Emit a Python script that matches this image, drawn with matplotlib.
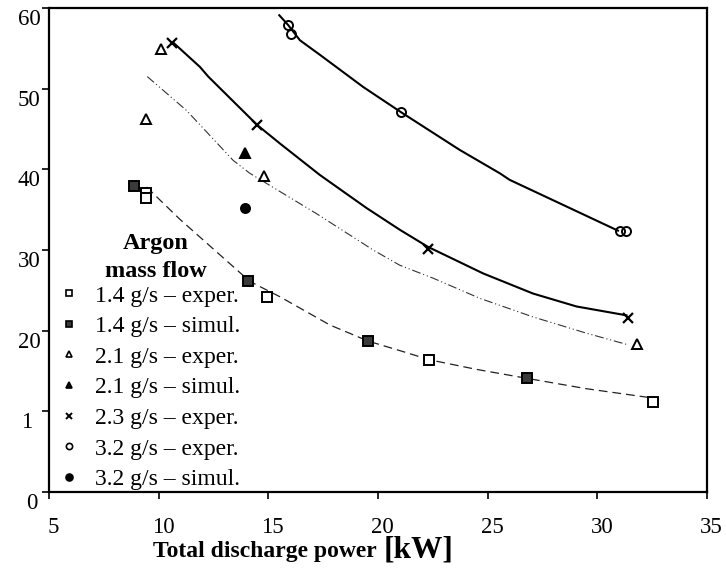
import matplotlib
matplotlib.use("Agg")
import matplotlib.pyplot as plt
import matplotlib.transforms as mtransforms
from matplotlib.lines import Line2D

plt.rcParams['font.family'] = ['Liberation Serif', 'DejaVu Serif']

# ---- measured points -------------------------------------------------------
p14_exp_x = [9.42, 9.42, 14.95, 22.33, 32.53]
p14_exp_y = [37.1, 36.4, 24.2, 16.4, 11.2]
p14_sim_x = [8.87, 14.07, 19.56, 26.79]
p14_sim_y = [37.9, 26.1, 18.7, 14.1]
p21_exp_x = [9.41, 10.09, 14.8, 31.83]
p21_exp_y = [46.2, 54.9, 39.2, 18.4]
p21_sim_x = [13.95]
p21_sim_y = [42.0]
p23_exp_x = [10.62, 14.49, 22.29, 31.42]
p23_exp_y = [55.7, 45.5, 30.1, 21.6]
p32_exp_x = [15.91, 16.03, 21.04, 31.03, 31.3]
p32_exp_y = [57.9, 56.8, 47.1, 32.3, 32.4]
p32_sim_x = [13.93]
p32_sim_y = [35.2]

# ---- trend curves ----------------------------------------------------------
c32_x = [15.5, 15.9, 16.44, 17.35, 19.33, 21.04, 23.73, 25.56, 26.0, 30.94]
c32_y = [59.1, 57.9, 56.0, 54.2, 50.2, 47.1, 42.4, 39.5, 38.7, 32.4]
c23_x = [10.67, 11.88, 12.26, 14.49, 15.53, 17.35, 19.48, 21.0, 22.27, 24.79, 27.07, 29.05, 31.33]
c23_y = [55.7, 52.7, 51.5, 45.5, 43.2, 39.3, 35.2, 32.5, 30.4, 27.1, 24.6, 23.0, 21.9]
c21_x = [9.48, 11.27, 13.40, 14.16, 17.2, 19.78, 21.0, 22.52, 24.65, 27.07, 29.49, 31.33]
c21_y = [51.5, 47.3, 41.1, 39.5, 34.5, 30.0, 28.1, 26.5, 24.0, 21.7, 19.7, 18.3]
c14_x = [9.45, 10.97, 14.16, 15.53, 17.81, 19.56, 21.15, 22.33, 24.49, 26.77, 29.51, 32.4]
c14_y = [37.8, 33.8, 26.1, 24.2, 20.7, 18.7, 17.4, 16.4, 15.2, 14.1, 12.8, 11.7]

x_ticks = [5, 10, 15, 20, 25, 30, 35]
y_ticks = [0, 10, 20, 30, 40, 50, 60]
y_tick_labels = ["0", "1", "20", "30", "40", "50", "60"]

legend_title = "Argon\nmass flow"
legend_labels = ["1.4 g/s \u2013 exper.", "1.4 g/s \u2013 simul.",
                 "2.1 g/s \u2013 exper.", "2.1 g/s \u2013 simul.",
                 "2.3 g/s \u2013 exper.", "3.2 g/s \u2013 exper.",
                 "3.2 g/s \u2013 simul."]

fig = plt.figure(figsize=(7.26, 5.73), dpi=100)
ax = fig.add_axes([49 / 726, 1 - 492 / 573, 658 / 726, 484 / 573])

# curves
ax.plot(c32_x, c32_y, color='black', lw=1.5, zorder=2)
ax.plot(c23_x, c23_y, color='black', lw=1.5, zorder=2)
ax.plot(c21_x, c21_y, color='#333333', lw=0.8, dashes=(8, 2.5, 1, 2.5, 1, 2.5), zorder=2)
ax.plot(c14_x, c14_y, color='#222222', lw=0.9, dashes=(7, 4), zorder=2)

ms = 6.5
mew = 1.4
ax.plot(p14_exp_x, p14_exp_y, ls='none', marker='s', ms=ms, mfc='white', mec='black', mew=mew, zorder=3)
ax.plot(p14_sim_x, p14_sim_y, ls='none', marker='s', ms=ms, mfc='#3a3a3a', mec='black', mew=mew, zorder=3)
ax.plot(p21_exp_x, p21_exp_y, ls='none', marker='^', ms=ms, mfc='white', mec='black', mew=mew, zorder=3)
ax.plot(p21_sim_x, p21_sim_y, ls='none', marker='^', ms=ms + 0.5, mfc='black', mec='black', mew=mew, zorder=3)
ax.plot(p23_exp_x, p23_exp_y, ls='none', marker='x', ms=ms + 0.5, mec='black', mew=1.6, zorder=3)
ax.plot(p32_exp_x, p32_exp_y, ls='none', marker='o', ms=ms, mfc='none', mec='black', mew=mew, zorder=3)
ax.plot(p32_sim_x, p32_sim_y, ls='none', marker='o', ms=ms, mfc='black', mec='black', mew=mew, zorder=3)

ax.set_xlim(5, 35)
ax.set_ylim(0, 60)
ax.set_xticks(x_ticks)
ax.set_yticks(y_ticks)
ax.set_yticklabels(y_tick_labels)

for s in ax.spines.values():
    s.set_linewidth(1.6)
ax.tick_params(direction='out', length=5, width=1.2, labelsize=16.5, pad=1)
ax.tick_params(axis='x', pad=13)

fig.canvas.draw()
dpi = fig.dpi
for lab in ax.get_yticklabels():
    dx = -8 if lab.get_text() == "1" else (-3 if lab.get_text() == "0" else 0)
    lab.set_transform(lab.get_transform() + mtransforms.ScaledTranslation(dx / dpi, -9 / dpi, fig.dpi_scale_trans))
for lab in ax.get_xticklabels():
    lab.set_transform(lab.get_transform() + mtransforms.ScaledTranslation(4.5 / dpi, 0, fig.dpi_scale_trans))

# axis title
fig.text(153 / 726, 1 - 557 / 573, "Total discharge power ", fontsize=17, fontweight='bold',
         ha='left', va='baseline')
fig.text(384 / 726, 1 - 558 / 573, "[kW]", fontsize=22.5, fontweight='bold',
         ha='left', va='baseline')

# legend
lm = 4.5
handles = [
    Line2D([], [], ls='none', marker='s', ms=lm, mfc='white', mec='black', mew=1.2),
    Line2D([], [], ls='none', marker='s', ms=lm, mfc='#3a3a3a', mec='black', mew=1.2),
    Line2D([], [], ls='none', marker='^', ms=lm, mfc='white', mec='black', mew=1.2),
    Line2D([], [], ls='none', marker='^', ms=lm, mfc='black', mec='black', mew=1.2),
    Line2D([], [], ls='none', marker='x', ms=lm, mec='black', mew=1.4),
    Line2D([], [], ls='none', marker='o', ms=lm, mfc='none', mec='black', mew=1.2),
    Line2D([], [], ls='none', marker='o', ms=lm + 0.5, mfc='black', mec='black', mew=1.2),
]
fs = 17
leg = ax.legend(handles, legend_labels, loc='upper left',
                bbox_to_anchor=((60 - 49) / 658, (492 - 285) / 484),
                frameon=False, fontsize=fs, borderpad=0, borderaxespad=0,
                handlelength=0.8, handletextpad=0.7, labelspacing=0.385)

# legend heading
fig.text(156 / 726, 1 - 257.5 / 573, legend_title, fontsize=17.5, fontweight='bold',
         ha='center', va='center', multialignment='center', linespacing=1.45)

fig.savefig("out.png", dpi=100)
